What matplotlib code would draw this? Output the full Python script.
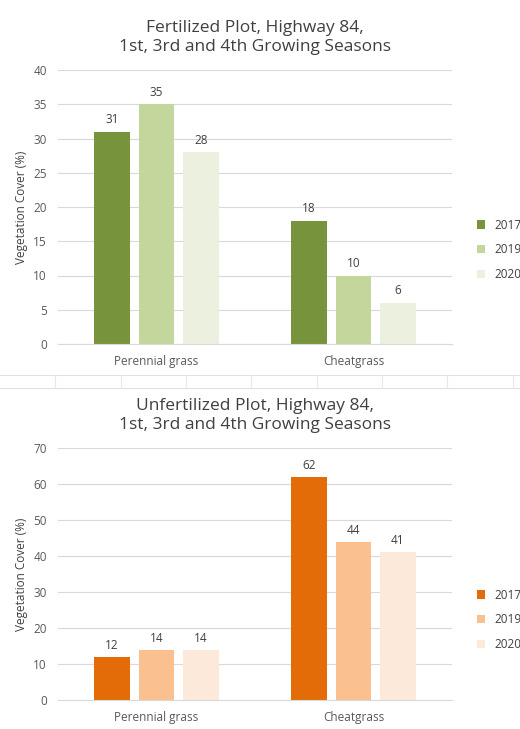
import matplotlib
matplotlib.use("Agg")
import matplotlib.pyplot as plt
from matplotlib.lines import Line2D
import numpy as np

plt.rcParams['font.family'] = ['Open Sans', 'DejaVu Sans']

categories = ["Perennial grass", "Cheatgrass"]
years = ["2017", "2019", "2020"]
fert = [[31, 18], [35, 10], [28, 6]]
unfert = [[12, 62], [14, 44], [14, 41]]
green = ["#77933C", "#C3D69B", "#EBF1DE"]
orange = ["#E36C09", "#FAC090", "#FDE9D9"]

W, H = 520, 729
fig = plt.figure(figsize=(W/100, H/100), dpi=100)

def px(x0, y0, x1, y1):
    return [x0/W, 1-y1/H, (x1-x0)/W, (y1-y0)/H]

def panel(rect, data, colors, ymax, title, legend_y):
    ax = fig.add_axes(px(*rect))
    x = np.arange(len(categories))
    offs = [-0.225, 0, 0.225]
    for i, yr in enumerate(years):
        b = ax.bar(x + offs[i], data[i], 0.18, color=colors[i], label=yr)
        for xi, v in zip(x + offs[i], data[i]):
            ax.text(xi, v + ymax*0.02, str(v), ha='center', va='bottom', fontsize=8.5, color='#404040')
    ax.set_xlim(-0.5, 1.5)
    ax.set_ylim(0, ymax)
    ax.set_yticks(np.arange(0, ymax+1, 5 if ymax == 40 else 10))
    ax.set_xticks(x)
    ax.set_xticklabels(categories)
    ax.tick_params(length=0, labelsize=8.5, colors='#595959', pad=8)
    ax.grid(axis='y', color='#D9D9D9', lw=0.8)
    ax.set_axisbelow(True)
    for s in ['top', 'right', 'left']:
        ax.spines[s].set_visible(False)
    ax.spines['bottom'].set_color('#D9D9D9')
    ax.set_ylabel("Vegetation Cover (%)", fontsize=8.5, color='#404040')
    ax.set_title(title, fontsize=12.5, color='#404040', pad=14)
    ax.legend(loc='upper left', bbox_to_anchor=(466/W, 1-legend_y/H), bbox_transform=fig.transFigure,
              frameon=False, fontsize=8.5, handlelength=0.7, handleheight=0.7, labelspacing=1.0,
              labelcolor='#404040')
    return ax

panel((58, 70, 452, 344), fert, green, 40,
      "Fertilized Plot, Highway 84,\n1st, 3rd and 4th Growing Seasons", 208)
panel((58, 448, 452, 700), unfert, orange, 70,
      "Unfertilized Plot, Highway 84,\n1st, 3rd and 4th Growing Seasons", 578)

# spreadsheet grid lines between charts
for y in (375, 388):
    fig.add_artist(Line2D([0, 1], [1-y/H]*2, color='#E0E0E0', lw=0.8))
for xv in (55, 121, 186, 251, 317, 382, 447, 513):
    fig.add_artist(Line2D([xv/W]*2, [1-388/H, 1-375/H], color='#E8E8E8', lw=0.8))

fig.savefig("out.png", dpi=100)
